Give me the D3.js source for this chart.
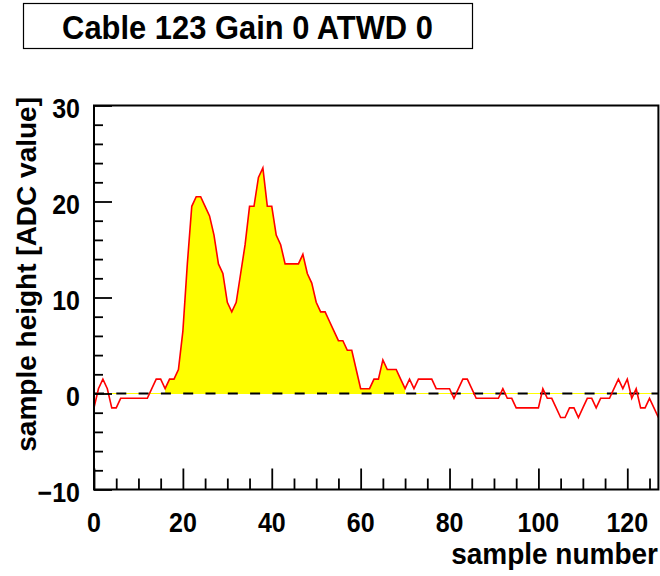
<!DOCTYPE html>
<html lang="en">

<head>
    <meta charset="UTF-8">
    <title>Cable 123 Gain 0 ATWD 0</title>
    <script src="https://d3js.org/d3.v7.min.js"></script>
    <style>
        body {
            margin: 0;
            padding: 0;
            background-color: #fff;
        }

        svg {
            display: block;
            font-family: 'Liberation Sans', Arial, Helvetica, sans-serif;
            font-weight: bold;
        }
    </style>
</head>

<body>
    <div id="chart"></div>
    <script>
        // waveform samples (ADC value per sample number 0..127)
        const samples = d3.range(0, 128);
        const adcValues = [
            -1.5, 0.5, 1.5, 0.5, -1.5, -1.5, -0.5, -0.5, -0.5, -0.5,
            -0.5, -0.5, -0.5, 0.5, 1.5, 1.5, 0.5, 1.5, 1.5, 2.5,
            6.5, 13.5, 19.5, 20.5, 20.5, 19.5, 18.5, 16.5, 13.5, 12.5,
            9.5, 8.5, 9.5, 12.5, 15.5, 19.5, 19.5, 22.5, 23.5, 19.5,
            19.5, 16.5, 15.5, 13.5, 13.5, 13.5, 13.5, 14.5, 12.5, 11.5,
            9.5, 8.5, 8.5, 7.5, 6.5, 5.5, 5.5, 4.5, 4.5, 2.5,
            0.5, 0.5, 0.5, 1.5, 1.5, 3.5, 2.5, 2.5, 2.5, 1.5,
            0.5, 1.5, 0.5, 1.5, 1.5, 1.5, 1.5, 0.5, 0.5, 0.5,
            0.5, -0.5, 0.5, 1.5, 1.5, 0.5, -0.5, -0.5, -0.5, -0.5,
            -0.5, -0.5, 0.5, -0.5, -0.5, -1.5, -1.5, -1.5, -1.5, -1.5,
            -1.5, 0.5, -0.5, -0.5, -1.5, -2.5, -2.5, -1.5, -1.5, -2.5,
            -1.5, -0.5, -0.5, -1.5, -0.5, -0.5, -0.5, 0.5, 1.5, 0.5,
            1.5, -0.5, 0.5, -1.5, -1.5, -0.5, -1.5, -2.5
        ];
        // pulse window that is filled
        const pulseStart = 16;
        const pulseEnd = 70;

        const xDomain = [0, 127];
        const yDomain = [-10, 30];
        const xMajorTicks = [0, 20, 40, 60, 80, 100, 120];
        const yMajorTicks = [-10, 0, 10, 20, 30];
        const titleText = "Cable 123 Gain 0 ATWD 0";
        const xTitle = "sample number";
        const yTitle = "sample height [ADC value]";

        let width = 660,
            height = 576;
        let margin = { top: 105.5, right: 1.6, bottom: 86.5, left: 94 };

        let svg = d3.select("#chart").append("svg")
            .attr("width", width)
            .attr("height", height);

        let x = d3.scaleLinear()
            .domain(xDomain)
            .range([margin.left, width - margin.right]);

        let y = d3.scaleLinear()
            .domain(yDomain)
            .range([height - margin.bottom, margin.top]);

        let data = samples.map((s, i) => ({ s: s, v: adcValues[i] }));

        // title box
        svg.append("rect")
            .attr("x", 23.5)
            .attr("y", 3.5)
            .attr("width", 449)
            .attr("height", 45)
            .attr("fill", "#fff")
            .attr("stroke", "#000")
            .attr("stroke-width", 1.2);

        svg.append("text")
            .attr("transform", "translate(247.5,39) scale(1.03,1.12)")
            .attr("text-anchor", "middle")
            .style("font-size", "30px")
            .text(titleText);

        // yellow fill under the pulse
        let area = d3.area()
            .x(d => x(d.s))
            .y0(y(0))
            .y1(d => y(d.v));

        svg.append("path")
            .datum(data.filter(d => d.s >= pulseStart && d.s <= pulseEnd))
            .attr("d", area)
            .attr("fill", "#ffff00");

        svg.append("line")
            .attr("x1", x(xDomain[0]))
            .attr("x2", x(xDomain[1]))
            .attr("y1", y(0))
            .attr("y2", y(0))
            .attr("stroke", "#ffff00")
            .attr("stroke-width", 1);

        // dashed baseline
        svg.append("line")
            .attr("x1", x(xDomain[0]))
            .attr("x2", x(xDomain[1]))
            .attr("y1", y(0))
            .attr("y2", y(0))
            .attr("stroke", "#000")
            .attr("stroke-width", 1.8)
            .attr("stroke-dasharray", "10,12.3");

        // waveform
        let line = d3.line()
            .x(d => x(d.s))
            .y(d => y(d.v));

        svg.append("path")
            .datum(data)
            .attr("d", line)
            .attr("fill", "none")
            .attr("stroke", "#ff0000")
            .attr("stroke-width", 1.6)
            .attr("stroke-linejoin", "miter");

        // frame
        svg.append("rect")
            .attr("x", x(xDomain[0]))
            .attr("y", y(yDomain[1]))
            .attr("width", x(xDomain[1]) - x(xDomain[0]))
            .attr("height", y(yDomain[0]) - y(yDomain[1]))
            .attr("fill", "none")
            .attr("stroke", "#000")
            .attr("stroke-width", 2);

        // x axis ticks (pointing up into the plot)
        let xAxis = svg.append("g")
            .attr("transform", `translate(0,${y(yDomain[0])})`);

        xAxis.call(d3.axisBottom(x)
            .tickValues(d3.range(0, 128, 5))
            .tickSize(-11)
            .tickFormat(""));

        xAxis.selectAll(".tick line")
            .filter(d => d % 20 === 0)
            .attr("y2", -21);

        xAxis.selectAll(".tick line").attr("stroke-width", 1.8);
        xAxis.select(".domain").remove();

        svg.append("g")
            .selectAll("text")
            .data(xMajorTicks)
            .join("text")
            .attr("transform", d => `translate(${x(d)},532) scale(1,1.08)`)
            .attr("text-anchor", "middle")
            .style("font-size", "25px")
            .text(d => d);

        // y axis ticks (pointing right into the plot)
        let yAxis = svg.append("g")
            .attr("transform", `translate(${x(xDomain[0])},0)`);

        yAxis.call(d3.axisLeft(y)
            .tickValues(d3.range(-10, 31, 2))
            .tickSize(-9)
            .tickFormat(""));

        yAxis.selectAll(".tick line")
            .filter(d => d % 10 === 0)
            .attr("x2", 18);

        yAxis.selectAll(".tick line").attr("stroke-width", 1.8);
        yAxis.select(".domain").remove();

        svg.append("g")
            .selectAll("text")
            .data(yMajorTicks)
            .join("text")
            .attr("transform", d => `translate(80,${y(d) + 12.5}) scale(1,1.08)`)
            .attr("text-anchor", "end")
            .style("font-size", "25px")
            .text(d => d < 0 ? "\u2212" + Math.abs(d) : d);

        // axis titles
        svg.append("text")
            .attr("transform", "translate(658,564) scale(1,1.08)")
            .attr("text-anchor", "end")
            .style("font-size", "28px")
            .text(xTitle);

        svg.append("text")
            .attr("transform", "translate(36,97) rotate(-90)")
            .attr("text-anchor", "end")
            .style("font-size", "28px")
            .text(yTitle);
    </script>
</body>

</html>
